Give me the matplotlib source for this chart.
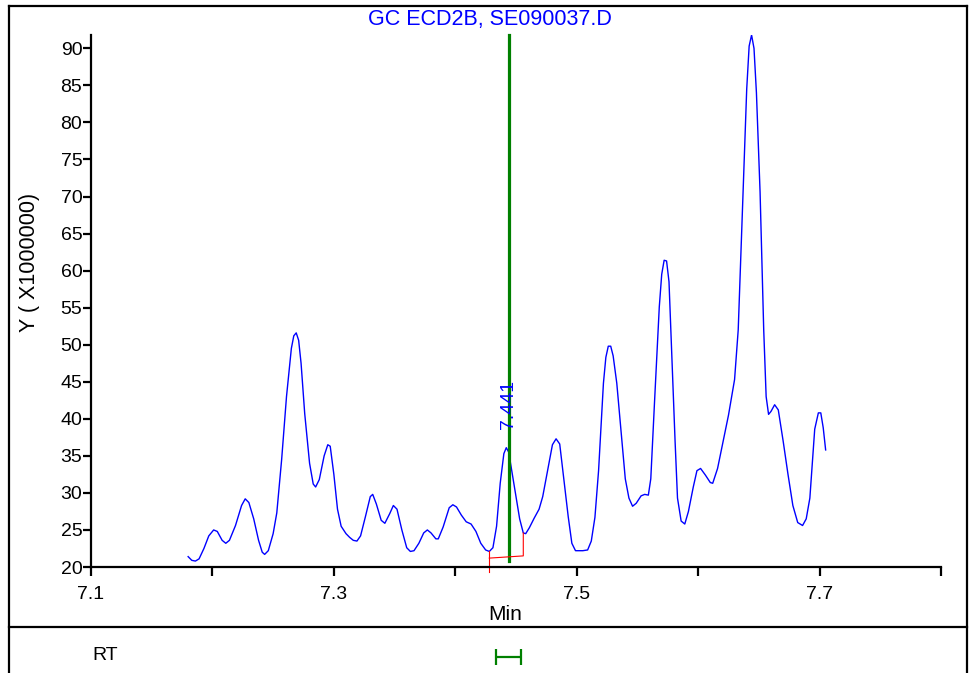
import matplotlib
matplotlib.use("Agg")
import matplotlib.pyplot as plt
from matplotlib.lines import Line2D

plt.rcParams['font.family'] = ['Liberation Sans', 'DejaVu Sans']

# retention time (min) and signal (x1000000)
rt = [7.180, 7.183, 7.186, 7.189, 7.193, 7.197, 7.201, 7.204, 7.208, 7.211,
      7.214, 7.219, 7.224, 7.227, 7.230, 7.234, 7.238, 7.241, 7.243, 7.246,
      7.250, 7.253, 7.257, 7.261, 7.265, 7.267, 7.269, 7.271, 7.273, 7.276,
      7.280, 7.283, 7.285, 7.288, 7.292, 7.295, 7.297, 7.300, 7.303, 7.306,
      7.310, 7.313, 7.316, 7.319, 7.322, 7.326, 7.330, 7.332, 7.335, 7.339,
      7.342, 7.346, 7.349, 7.352, 7.356, 7.360, 7.363, 7.366, 7.370, 7.374,
      7.377, 7.380, 7.384, 7.386, 7.390, 7.395, 7.398, 7.401, 7.405, 7.409,
      7.413, 7.417, 7.421, 7.425, 7.428, 7.431, 7.434, 7.437, 7.440, 7.442,
      7.444, 7.447, 7.450, 7.453, 7.456, 7.458, 7.461, 7.465, 7.469, 7.472,
      7.476, 7.480, 7.483, 7.486, 7.490, 7.493, 7.496, 7.499, 7.505, 7.509,
      7.512, 7.515, 7.518, 7.522, 7.524, 7.526, 7.528, 7.530, 7.533, 7.537,
      7.540, 7.543, 7.546, 7.549, 7.553, 7.556, 7.559, 7.561, 7.564, 7.568,
      7.570, 7.572, 7.574, 7.576, 7.578, 7.581, 7.583, 7.586, 7.589, 7.592,
      7.596, 7.599, 7.602, 7.606, 7.610, 7.612, 7.616, 7.620, 7.625, 7.630,
      7.633, 7.637, 7.640, 7.642, 7.644, 7.646, 7.648, 7.651, 7.654, 7.656,
      7.658, 7.660, 7.663, 7.666, 7.670, 7.674, 7.678, 7.682, 7.686, 7.689,
      7.692, 7.696, 7.699, 7.701, 7.703, 7.705]
signal = [21.4, 20.9, 20.8, 21.1, 22.5, 24.2, 25.0, 24.8, 23.6, 23.2,
          23.6, 25.6, 28.3, 29.2, 28.7, 26.5, 23.6, 22.0, 21.7, 22.2,
          24.5, 27.3, 34.5, 43.0, 49.5, 51.2, 51.6, 50.6, 47.5, 40.7,
          34.0, 31.2, 30.8, 31.8, 35.0, 36.5, 36.3, 32.5, 27.8, 25.5,
          24.5, 24.0, 23.6, 23.5, 24.2, 26.8, 29.5, 29.8, 28.5, 26.3,
          25.9, 27.2, 28.3, 27.8, 25.0, 22.6, 22.1, 22.2, 23.2, 24.6,
          25.0, 24.6, 23.8, 23.8, 25.4, 28.0, 28.4, 28.1, 27.0, 26.1,
          25.8, 24.8, 23.2, 22.3, 22.1, 22.6, 25.5, 31.3, 35.3, 36.1,
          35.5, 32.5, 29.5, 26.5, 24.6, 24.5, 25.3, 26.6, 27.8, 29.5,
          33.0, 36.5, 37.3, 36.6, 31.0, 26.8, 23.2, 22.2, 22.2, 22.3,
          23.5, 26.7, 33.0, 44.8, 48.3, 49.8, 49.8, 48.5, 44.8, 37.5,
          31.9, 29.3, 28.2, 28.6, 29.6, 29.8, 29.7, 31.9, 42.0, 55.1,
          59.5, 61.4, 61.3, 58.5, 49.9, 37.0, 29.3, 26.2, 25.8, 27.5,
          30.8, 33.0, 33.3, 32.4, 31.4, 31.3, 33.3, 36.5, 40.5, 45.3,
          52.0, 70.6, 84.5, 90.3, 91.8, 90.0, 84.0, 70.6, 52.0, 43.0,
          40.6, 41.0, 41.9, 41.2, 37.0, 32.5, 28.3, 26.0, 25.6, 26.5,
          29.3, 38.6, 40.8, 40.8, 38.8, 35.8]

peak_rt = 7.444
peak_label = "7.441"
base_x = [7.428, 7.428, 7.456, 7.456]
base_y = [19.3, 21.2, 21.5, 24.6]
base_start_top = 22.2
rt_window = 0.0103

x_ticks = [7.1, 7.2, 7.3, 7.4, 7.5, 7.6, 7.7, 7.8]
x_labels = ["7.1", "", "7.3", "", "7.5", "", "7.7", ""]
y_ticks = list(range(20, 95, 5))

W, H = 971, 673
fig = plt.figure(figsize=(W / 100, H / 100), dpi=100)
ax = fig.add_axes([91 / W, 106 / H, 850 / W, 532 / H])

ax.plot(rt, signal, color="blue", lw=1.0)
ax.plot([peak_rt, peak_rt], [20.8, 91.8], color="green", lw=2.3, clip_on=False)
ax.plot([base_x[0], base_x[0]], [base_y[0], base_start_top], color="red", lw=0.8, clip_on=False)
ax.plot(base_x[1:], base_y[1:], color="red", lw=0.8, clip_on=False)
ax.text(peak_rt, 38.6, peak_label, rotation=90, color="blue", fontsize=14,
        ha="center", va="bottom")

ax.set_xlim(7.1, 7.8)
ax.set_ylim(20, 91.8)
ax.set_xticks(x_ticks)
ax.set_xticklabels(x_labels)
ax.set_yticks(y_ticks)
for s in ["top", "right"]:
    ax.spines[s].set_visible(False)
for s in ["left", "bottom"]:
    ax.spines[s].set_linewidth(1.6)
ax.tick_params(axis="x", length=6.5, width=1.6, pad=7, labelsize=14)
ax.tick_params(axis="y", length=5.8, width=1.6, pad=0.5, labelsize=14)

fig.text(490 / W, 1 - 20 / H, "GC ECD2B, SE090037.D", color="blue",
         fontsize=15.5, ha="center", va="center")
fig.text(29 / W, 1 - 262 / H, "Y ( X1000000)", rotation=90, fontsize=15.5,
         ha="center", va="center")
fig.text(505 / W, 1 - 615 / H, "Min", fontsize=15, ha="center", va="center")

# outer frame and separator
lw = 1.6
fig.add_artist(Line2D([9 / W, 9 / W], [0, 1 - 6 / H], color="black", lw=lw))
fig.add_artist(Line2D([967 / W, 967 / W], [0, 1 - 6 / H], color="black", lw=lw))
fig.add_artist(Line2D([9 / W, 967 / W], [1 - 6 / H, 1 - 6 / H], color="black", lw=lw))
fig.add_artist(Line2D([9 / W, 967 / W], [1 - 627 / H, 1 - 627 / H], color="black", lw=lw))

# RT panel
ax2 = fig.add_axes([91 / W, 0, 850 / W, 46 / H])
ax2.set_xlim(7.1, 7.8)
ax2.set_ylim(0, 1)
ax2.axis("off")
ax2.errorbar([peak_rt], [0.35], xerr=rt_window, color="green", lw=1.6,
             capsize=6, capthick=1.6)
fig.text(105 / W, 1 - 655 / H, "RT", fontsize=14, ha="center", va="center")

fig.savefig("out.png", dpi=100)
